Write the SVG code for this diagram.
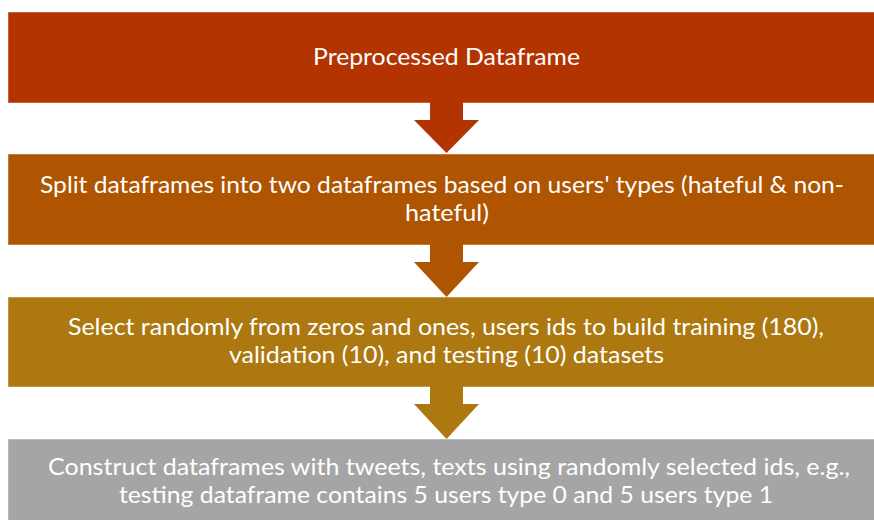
<svg xmlns="http://www.w3.org/2000/svg" width="874" height="520" viewBox="0 0 874 520">
  <style>
    .box { stroke: #ffffff; stroke-opacity: 0.45; stroke-width: 1; }
    .lbl { font-family: Lato, "Open Sans", "Liberation Sans", sans-serif; font-size: 23px; fill: #ffffff; }
  </style>
  <rect width="874" height="520" fill="#ffffff"/>

  <g id="step1">
    <rect class="box" x="8" y="12" width="870" height="91" fill="#B33400"/>
    <text class="lbl" x="313" y="65" textLength="267" lengthAdjust="spacingAndGlyphs">Preprocessed Dataframe</text>
  </g>

  <g id="step2">
    <rect class="box" x="8" y="154" width="870" height="91" fill="#AF5400"/>
    <text class="lbl" x="40" y="193" textLength="804" lengthAdjust="spacingAndGlyphs">Split dataframes into two dataframes based on users' types (hateful &amp; non-</text>
    <text class="lbl" x="405" y="221" textLength="84" lengthAdjust="spacingAndGlyphs">hateful)</text>
  </g>

  <g id="step3">
    <rect class="box" x="8" y="297" width="870" height="90" fill="#AC780F"/>
    <text class="lbl" x="68" y="335" textLength="756" lengthAdjust="spacingAndGlyphs">Select randomly from zeros and ones, users ids to build training (180),</text>
    <text class="lbl" x="229" y="363" textLength="435" lengthAdjust="spacingAndGlyphs">validation (10), and testing (10) datasets</text>
  </g>

  <g id="step4">
    <rect class="box" x="8" y="439" width="870" height="90" fill="#A5A5A5"/>
    <text class="lbl" x="48" y="475" textLength="802" lengthAdjust="spacingAndGlyphs">Construct dataframes with tweets, texts using randomly selected ids, e.g.,</text>
    <text class="lbl" x="119" y="503" textLength="654" lengthAdjust="spacingAndGlyphs">testing dataframe contains 5 users type 0 and 5 users type 1</text>
  </g>

  <!-- connectors: block arrows coloured like the step above, drawn over the box edges -->
  <g id="connectors">
    <polygon fill="#B33400" points="430,102 463,102 463,120 479,120 446.5,153 414,120 430,120"/>
    <polygon fill="#AF5400" points="430,244 463,244 463,262 479,262 446.5,297 414,262 430,262"/>
    <polygon fill="#AC780F" points="430,386 463,386 463,404 479,404 446.5,439 414,404 430,404"/>
  </g>
</svg>
